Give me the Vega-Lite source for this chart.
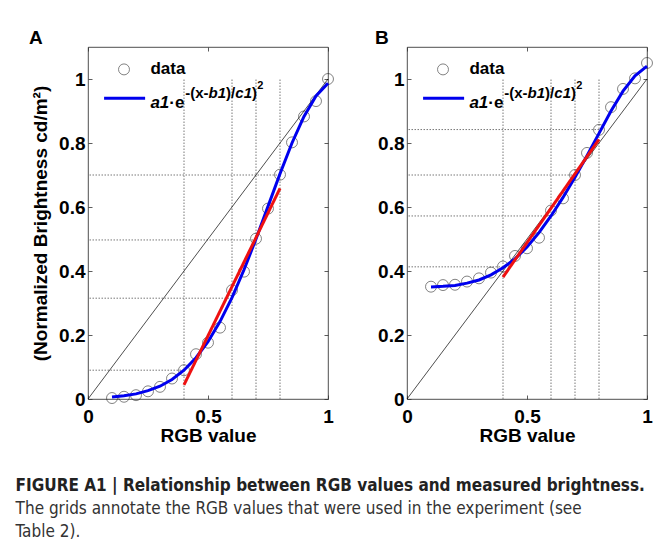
{
  "$schema": "https://vega.github.io/schema/vega-lite/v6.json",
  "padding": {"left": 15, "top": 28, "right": 5, "bottom": 5},
  "spacing": 38,
  "datasets": {
    "one": [{"k": 1}],
    "ptsA": [
      {"x": 0.1, "y": 0.003}, {"x": 0.15, "y": 0.007}, {"x": 0.2, "y": 0.012}, {"x": 0.25, "y": 0.024},
      {"x": 0.3, "y": 0.038}, {"x": 0.35, "y": 0.064}, {"x": 0.4, "y": 0.09}, {"x": 0.45, "y": 0.14},
      {"x": 0.5, "y": 0.176}, {"x": 0.55, "y": 0.223}, {"x": 0.6, "y": 0.34}, {"x": 0.65, "y": 0.398},
      {"x": 0.7, "y": 0.501}, {"x": 0.75, "y": 0.595}, {"x": 0.8, "y": 0.701}, {"x": 0.85, "y": 0.802},
      {"x": 0.9, "y": 0.883}, {"x": 0.95, "y": 0.931}, {"x": 1.0, "y": 1.0}
    ],
    "ptsB": [
      {"x": 0.1, "y": 0.351}, {"x": 0.15, "y": 0.356}, {"x": 0.2, "y": 0.357}, {"x": 0.25, "y": 0.367},
      {"x": 0.3, "y": 0.377}, {"x": 0.35, "y": 0.395}, {"x": 0.4, "y": 0.414}, {"x": 0.45, "y": 0.447},
      {"x": 0.5, "y": 0.471}, {"x": 0.55, "y": 0.504}, {"x": 0.6, "y": 0.589}, {"x": 0.65, "y": 0.627},
      {"x": 0.7, "y": 0.7}, {"x": 0.75, "y": 0.769}, {"x": 0.8, "y": 0.841}, {"x": 0.85, "y": 0.912},
      {"x": 0.9, "y": 0.969}, {"x": 0.95, "y": 1.002}, {"x": 1.0, "y": 1.05}
    ],
    "fitA": [
      {"x": 0.1, "y": 0.006}, {"x": 0.15, "y": 0.01}, {"x": 0.2, "y": 0.016}, {"x": 0.25, "y": 0.026},
      {"x": 0.3, "y": 0.04}, {"x": 0.35, "y": 0.061}, {"x": 0.4, "y": 0.09}, {"x": 0.45, "y": 0.129},
      {"x": 0.5, "y": 0.179}, {"x": 0.55, "y": 0.242}, {"x": 0.6, "y": 0.317}, {"x": 0.65, "y": 0.404},
      {"x": 0.7, "y": 0.5}, {"x": 0.75, "y": 0.602}, {"x": 0.8, "y": 0.704}, {"x": 0.85, "y": 0.8},
      {"x": 0.9, "y": 0.883}, {"x": 0.95, "y": 0.947}, {"x": 1.0, "y": 0.987}
    ],
    "fitB": [
      {"x": 0.1, "y": 0.35}, {"x": 0.15, "y": 0.352}, {"x": 0.2, "y": 0.355}, {"x": 0.25, "y": 0.362},
      {"x": 0.3, "y": 0.372}, {"x": 0.35, "y": 0.388}, {"x": 0.4, "y": 0.41}, {"x": 0.45, "y": 0.438},
      {"x": 0.5, "y": 0.475}, {"x": 0.55, "y": 0.52}, {"x": 0.6, "y": 0.572}, {"x": 0.65, "y": 0.63},
      {"x": 0.7, "y": 0.693}, {"x": 0.75, "y": 0.76}, {"x": 0.8, "y": 0.83}, {"x": 0.85, "y": 0.9},
      {"x": 0.9, "y": 0.962}, {"x": 0.95, "y": 1.01}, {"x": 1.0, "y": 1.04}
    ],
    "gridA": [
      {"x": 0.4, "y": 0.09}, {"x": 0.6, "y": 0.315}, {"x": 0.7, "y": 0.497}, {"x": 0.8, "y": 0.7}
    ],
    "gridB": [
      {"x": 0.4, "y": 0.413}, {"x": 0.6, "y": 0.572}, {"x": 0.7, "y": 0.7}, {"x": 0.8, "y": 0.842}
    ],
    "tanA": [{"x": 0.4, "y": 0.044, "x2": 0.8, "y2": 0.658}],
    "tanB": [{"x": 0.4, "y": 0.381, "x2": 0.8, "y2": 0.811}]
  },
  "title": {
    "text": "FIGURE A1 | Relationship between RGB values and measured brightness.",
    "subtitle": ["The grids annotate the RGB values that were used in the experiment (see", "Table 2)."],
    "orient": "bottom",
    "anchor": "start",
    "frame": "bounds",
    "dx": -13,
    "offset": 33,
    "font": "DejaVu Sans Condensed",
    "fontSize": 17,
    "fontWeight": "bold",
    "color": "#222",
    "subtitleFont": "DejaVu Sans Condensed",
    "subtitleFontSize": 17,
    "subtitleFontWeight": "normal",
    "subtitleColor": "#333",
    "subtitlePadding": 6,
    "subtitleLineHeight": 23
  },
  "hconcat": [
    {
      "width": 240,
      "height": 352,
      "title": {"text": "A", "anchor": "start", "frame": "group", "dx": -59, "offset": -16, "baseline": "alphabetic", "fontSize": 19, "fontWeight": "bold", "color": "black"},
      "resolve": {"axis": {"x": "independent", "y": "independent"}},
      "layer": [
        {
          "data": {"name": "gridA"},
          "mark": {"type": "rule", "color": "#555", "strokeWidth": 0.8, "strokeDash": [1.5, 1.5]},
          "encoding": {
            "x": {"field": "x", "type": "quantitative", "scale": {"domain": [0, 1], "nice": false},
                  "axis": {"orient": "bottom", "values": [0, 0.5, 1], "format": "~g", "title": "RGB value", "labelFlush": false, "labelOverlap": false}},
            "y": {"datum": 0, "type": "quantitative", "scale": {"domain": [0, 1.1], "nice": false},
                  "axis": {"orient": "left", "values": [0, 0.2, 0.4, 0.6, 0.8, 1], "format": "~g", "title": "(Normalized Brightness cd/m²)", "labelOverlap": false}},
            "y2": {"datum": 1}
          }
        },
        {
          "data": {"name": "gridA"},
          "mark": {"type": "rule", "color": "#555", "strokeWidth": 0.8, "strokeDash": [1.5, 1.5]},
          "encoding": {
            "y": {"field": "y", "type": "quantitative", "axis": null},
            "x": {"field": "x", "type": "quantitative", "axis": null},
            "x2": {"datum": 0}
          }
        },
        {
          "data": {"name": "one"},
          "mark": {"type": "rule", "color": "black", "strokeWidth": 0.7},
          "encoding": {
            "x": {"datum": 0, "type": "quantitative", "axis": null},
            "y": {"datum": 0, "type": "quantitative", "axis": null},
            "x2": {"datum": 1},
            "y2": {"datum": 1}
          }
        },
        {
          "data": {"name": "ptsA"},
          "mark": {"type": "point", "shape": "circle", "filled": false, "size": 120, "color": "#222", "strokeWidth": 0.8},
          "encoding": {
            "x": {"field": "x", "type": "quantitative", "axis": {"orient": "top", "labels": false, "title": null, "values": [0, 0.5, 1]}},
            "y": {"field": "y", "type": "quantitative", "axis": {"orient": "right", "labels": false, "title": null, "values": [0, 0.2, 0.4, 0.6, 0.8, 1]}}
          }
        },
        {
          "data": {"name": "fitA"},
          "mark": {"type": "line", "color": "#0000ee", "strokeWidth": 3},
          "encoding": {
            "x": {"field": "x", "type": "quantitative", "axis": null},
            "y": {"field": "y", "type": "quantitative", "axis": null}
          }
        },
        {
          "data": {"name": "tanA"},
          "mark": {"type": "rule", "color": "#ee1111", "strokeWidth": 3},
          "encoding": {
            "x": {"field": "x", "type": "quantitative", "axis": null},
            "y": {"field": "y", "type": "quantitative", "axis": null},
            "x2": {"field": "x2"},
            "y2": {"field": "y2"}
          }
        },
        {
          "data": {"name": "one"},
          "mark": {"type": "point", "shape": "circle", "filled": false, "size": 120, "color": "#222", "strokeWidth": 0.8},
          "encoding": {"x": {"datum": 0.15, "type": "quantitative", "axis": null}, "y": {"datum": 1.03, "type": "quantitative", "axis": null}}
        },
        {
          "data": {"name": "one"},
          "mark": {"type": "text", "text": "data", "align": "left", "baseline": "middle", "fontSize": 17, "fontWeight": "bold", "color": "black"},
          "encoding": {"x": {"datum": 0.26, "type": "quantitative", "axis": null}, "y": {"datum": 1.03, "type": "quantitative", "axis": null}}
        },
        {
          "data": {"name": "one"},
          "mark": {"type": "rule", "color": "#0000ee", "strokeWidth": 3},
          "encoding": {"x": {"datum": 0.067, "type": "quantitative", "axis": null}, "x2": {"datum": 0.238}, "y": {"datum": 0.94, "type": "quantitative", "axis": null}}
        },
        {
          "data": {"name": "one"},
          "mark": {"type": "text", "text": "a1", "align": "left", "baseline": "alphabetic", "fontSize": 17, "fontWeight": "bold", "fontStyle": "italic", "color": "black"},
          "encoding": {"x": {"datum": 0.26, "type": "quantitative", "axis": null}, "y": {"datum": 0.91, "type": "quantitative", "axis": null}}
        },
        {
          "data": {"name": "one"},
          "mark": {"type": "text", "text": "·e", "align": "left", "baseline": "alphabetic", "fontSize": 17, "fontWeight": "bold", "color": "black"},
          "encoding": {"x": {"datum": 0.339, "type": "quantitative", "axis": null}, "y": {"datum": 0.91, "type": "quantitative", "axis": null}}
        },
        {
          "data": {"name": "one"},
          "mark": {"type": "text", "text": "-(x-", "align": "left", "baseline": "alphabetic", "fontSize": 15, "fontWeight": "bold", "color": "black"},
          "encoding": {"x": {"datum": 0.405, "type": "quantitative", "axis": null}, "y": {"datum": 0.94, "type": "quantitative", "axis": null}}
        },
        {
          "data": {"name": "one"},
          "mark": {"type": "text", "text": "b1", "align": "left", "baseline": "alphabetic", "fontSize": 15, "fontWeight": "bold", "fontStyle": "italic", "color": "black"},
          "encoding": {"x": {"datum": 0.502, "type": "quantitative", "axis": null}, "y": {"datum": 0.94, "type": "quantitative", "axis": null}}
        },
        {
          "data": {"name": "one"},
          "mark": {"type": "text", "text": ")/", "align": "left", "baseline": "alphabetic", "fontSize": 15, "fontWeight": "bold", "color": "black"},
          "encoding": {"x": {"datum": 0.575, "type": "quantitative", "axis": null}, "y": {"datum": 0.94, "type": "quantitative", "axis": null}}
        },
        {
          "data": {"name": "one"},
          "mark": {"type": "text", "text": "c1", "align": "left", "baseline": "alphabetic", "fontSize": 15, "fontWeight": "bold", "fontStyle": "italic", "color": "black"},
          "encoding": {"x": {"datum": 0.614, "type": "quantitative", "axis": null}, "y": {"datum": 0.94, "type": "quantitative", "axis": null}}
        },
        {
          "data": {"name": "one"},
          "mark": {"type": "text", "text": ")", "align": "left", "baseline": "alphabetic", "fontSize": 15, "fontWeight": "bold", "color": "black"},
          "encoding": {"x": {"datum": 0.683, "type": "quantitative", "axis": null}, "y": {"datum": 0.94, "type": "quantitative", "axis": null}}
        },
        {
          "data": {"name": "one"},
          "mark": {"type": "text", "text": "2", "align": "left", "baseline": "alphabetic", "fontSize": 11, "fontWeight": "bold", "color": "black"},
          "encoding": {"x": {"datum": 0.705, "type": "quantitative", "axis": null}, "y": {"datum": 0.97, "type": "quantitative", "axis": null}}
        }
      ]
    },
    {
      "width": 240,
      "height": 352,
      "title": {"text": "B", "anchor": "start", "frame": "group", "dx": -32, "offset": -16, "baseline": "alphabetic", "fontSize": 19, "fontWeight": "bold", "color": "black"},
      "resolve": {"axis": {"x": "independent", "y": "independent"}},
      "layer": [
        {
          "data": {"name": "gridB"},
          "mark": {"type": "rule", "color": "#555", "strokeWidth": 0.8, "strokeDash": [1.5, 1.5]},
          "encoding": {
            "x": {"field": "x", "type": "quantitative", "scale": {"domain": [0, 1], "nice": false},
                  "axis": {"orient": "bottom", "values": [0, 0.5, 1], "format": "~g", "title": "RGB value", "labelFlush": false, "labelOverlap": false}},
            "y": {"datum": 0, "type": "quantitative", "scale": {"domain": [0, 1.1], "nice": false},
                  "axis": {"orient": "left", "values": [0, 0.2, 0.4, 0.6, 0.8, 1], "format": "~g", "title": null, "labelOverlap": false}},
            "y2": {"datum": 1}
          }
        },
        {
          "data": {"name": "gridB"},
          "mark": {"type": "rule", "color": "#555", "strokeWidth": 0.8, "strokeDash": [1.5, 1.5]},
          "encoding": {
            "y": {"field": "y", "type": "quantitative", "axis": null},
            "x": {"field": "x", "type": "quantitative", "axis": null},
            "x2": {"datum": 0}
          }
        },
        {
          "data": {"name": "one"},
          "mark": {"type": "rule", "color": "black", "strokeWidth": 0.7},
          "encoding": {
            "x": {"datum": 0, "type": "quantitative", "axis": null},
            "y": {"datum": 0, "type": "quantitative", "axis": null},
            "x2": {"datum": 1},
            "y2": {"datum": 1}
          }
        },
        {
          "data": {"name": "ptsB"},
          "mark": {"type": "point", "shape": "circle", "filled": false, "size": 120, "color": "#222", "strokeWidth": 0.8},
          "encoding": {
            "x": {"field": "x", "type": "quantitative", "axis": {"orient": "top", "labels": false, "title": null, "values": [0, 0.5, 1]}},
            "y": {"field": "y", "type": "quantitative", "axis": {"orient": "right", "labels": false, "title": null, "values": [0, 0.2, 0.4, 0.6, 0.8, 1]}}
          }
        },
        {
          "data": {"name": "fitB"},
          "mark": {"type": "line", "color": "#0000ee", "strokeWidth": 3},
          "encoding": {
            "x": {"field": "x", "type": "quantitative", "axis": null},
            "y": {"field": "y", "type": "quantitative", "axis": null}
          }
        },
        {
          "data": {"name": "tanB"},
          "mark": {"type": "rule", "color": "#ee1111", "strokeWidth": 3},
          "encoding": {
            "x": {"field": "x", "type": "quantitative", "axis": null},
            "y": {"field": "y", "type": "quantitative", "axis": null},
            "x2": {"field": "x2"},
            "y2": {"field": "y2"}
          }
        },
        {
          "data": {"name": "one"},
          "mark": {"type": "point", "shape": "circle", "filled": false, "size": 120, "color": "#222", "strokeWidth": 0.8},
          "encoding": {"x": {"datum": 0.15, "type": "quantitative", "axis": null}, "y": {"datum": 1.03, "type": "quantitative", "axis": null}}
        },
        {
          "data": {"name": "one"},
          "mark": {"type": "text", "text": "data", "align": "left", "baseline": "middle", "fontSize": 17, "fontWeight": "bold", "color": "black"},
          "encoding": {"x": {"datum": 0.26, "type": "quantitative", "axis": null}, "y": {"datum": 1.03, "type": "quantitative", "axis": null}}
        },
        {
          "data": {"name": "one"},
          "mark": {"type": "rule", "color": "#0000ee", "strokeWidth": 3},
          "encoding": {"x": {"datum": 0.067, "type": "quantitative", "axis": null}, "x2": {"datum": 0.238}, "y": {"datum": 0.94, "type": "quantitative", "axis": null}}
        },
        {
          "data": {"name": "one"},
          "mark": {"type": "text", "text": "a1", "align": "left", "baseline": "alphabetic", "fontSize": 17, "fontWeight": "bold", "fontStyle": "italic", "color": "black"},
          "encoding": {"x": {"datum": 0.26, "type": "quantitative", "axis": null}, "y": {"datum": 0.91, "type": "quantitative", "axis": null}}
        },
        {
          "data": {"name": "one"},
          "mark": {"type": "text", "text": "·e", "align": "left", "baseline": "alphabetic", "fontSize": 17, "fontWeight": "bold", "color": "black"},
          "encoding": {"x": {"datum": 0.339, "type": "quantitative", "axis": null}, "y": {"datum": 0.91, "type": "quantitative", "axis": null}}
        },
        {
          "data": {"name": "one"},
          "mark": {"type": "text", "text": "-(x-", "align": "left", "baseline": "alphabetic", "fontSize": 15, "fontWeight": "bold", "color": "black"},
          "encoding": {"x": {"datum": 0.405, "type": "quantitative", "axis": null}, "y": {"datum": 0.94, "type": "quantitative", "axis": null}}
        },
        {
          "data": {"name": "one"},
          "mark": {"type": "text", "text": "b1", "align": "left", "baseline": "alphabetic", "fontSize": 15, "fontWeight": "bold", "fontStyle": "italic", "color": "black"},
          "encoding": {"x": {"datum": 0.502, "type": "quantitative", "axis": null}, "y": {"datum": 0.94, "type": "quantitative", "axis": null}}
        },
        {
          "data": {"name": "one"},
          "mark": {"type": "text", "text": ")/", "align": "left", "baseline": "alphabetic", "fontSize": 15, "fontWeight": "bold", "color": "black"},
          "encoding": {"x": {"datum": 0.575, "type": "quantitative", "axis": null}, "y": {"datum": 0.94, "type": "quantitative", "axis": null}}
        },
        {
          "data": {"name": "one"},
          "mark": {"type": "text", "text": "c1", "align": "left", "baseline": "alphabetic", "fontSize": 15, "fontWeight": "bold", "fontStyle": "italic", "color": "black"},
          "encoding": {"x": {"datum": 0.614, "type": "quantitative", "axis": null}, "y": {"datum": 0.94, "type": "quantitative", "axis": null}}
        },
        {
          "data": {"name": "one"},
          "mark": {"type": "text", "text": ")", "align": "left", "baseline": "alphabetic", "fontSize": 15, "fontWeight": "bold", "color": "black"},
          "encoding": {"x": {"datum": 0.683, "type": "quantitative", "axis": null}, "y": {"datum": 0.94, "type": "quantitative", "axis": null}}
        },
        {
          "data": {"name": "one"},
          "mark": {"type": "text", "text": "2", "align": "left", "baseline": "alphabetic", "fontSize": 11, "fontWeight": "bold", "color": "black"},
          "encoding": {"x": {"datum": 0.705, "type": "quantitative", "axis": null}, "y": {"datum": 0.97, "type": "quantitative", "axis": null}}
        }
      ]
    }
  ],
  "config": {
    "font": "Liberation Sans",
    "view": {"stroke": "#222", "strokeWidth": 0.8},
    "axis": {
      "labelFont": "Liberation Sans",
      "labelFontSize": 19,
      "labelFontWeight": "bold",
      "labelColor": "black",
      "titleFont": "Liberation Sans",
      "titleFontSize": 19,
      "titleFontWeight": "bold",
      "titleColor": "black",
      "grid": false,
      "domain": false,
      "tickColor": "#333",
      "tickSize": -4,
      "tickWidth": 0.8
    },
    "axisBottom": {"labelPadding": 12, "titlePadding": 0},
    "axisLeft": {"labelPadding": 7, "titlePadding": 8},
    "text": {"font": "Liberation Sans"}
  }
}
